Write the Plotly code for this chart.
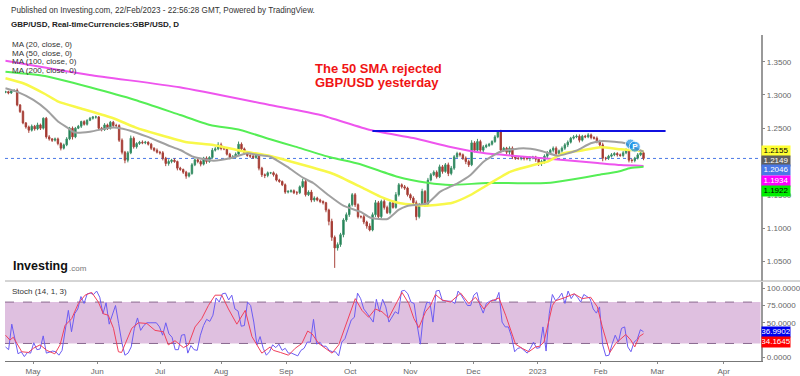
import numpy as np
import plotly.graph_objects as go
from plotly.subplots import make_subplots

W, H = 800, 376

closes = [
 1.3050,1.3030,1.3060,1.3070,1.2850,1.2750,1.2580,1.2520,1.2470,1.2530,
 1.2490,1.2550,1.2500,1.2650,1.2370,1.2340,1.2320,1.2340,1.2270,1.2200,
 1.2250,1.2340,1.2500,1.2370,1.2500,1.2530,1.2600,1.2560,1.2620,1.2650,
 1.2670,1.2670,1.2500,1.2480,1.2550,1.2500,1.2590,1.2540,1.2540,1.2320,
 1.2140,1.2020,1.2130,1.2350,1.2220,1.2270,1.2290,1.2280,1.2290,1.2260,
 1.2200,1.2170,1.2140,1.2130,1.2050,1.1970,1.2000,1.2020,1.2000,1.1900,
 1.1880,1.1840,1.1780,1.1820,1.1950,1.2025,1.2000,1.1960,1.2050,1.2000,
 1.2060,1.2170,1.2190,1.2250,1.2195,1.2190,1.2110,1.2060,1.2070,1.2110,
 1.2260,1.2190,1.2130,1.2090,1.2080,1.2060,1.2100,1.1900,1.1800,1.1790,
 1.1830,1.1830,1.1800,1.1720,1.1700,1.1650,1.1540,1.1550,1.1560,1.1530,
 1.1530,1.1620,1.1700,1.1500,1.1540,1.1420,1.1450,1.1420,1.1400,1.1380,
 1.1270,1.1100,1.0860,1.0700,1.0750,1.0900,1.1120,1.1200,1.1350,1.1500,
 1.1350,1.1170,1.1170,1.1090,1.1030,1.0970,1.1200,1.1380,1.1170,1.1400,
 1.1310,1.1230,1.1380,1.1310,1.1500,1.1650,1.1620,1.1600,1.1500,1.1450,
 1.1380,1.1170,1.1350,1.1550,1.1350,1.1720,1.1800,1.1840,1.1770,1.1920,
 1.1850,1.1950,1.1820,1.1900,1.2070,1.2120,1.2100,1.2050,1.2000,1.1950,
 1.2280,1.2170,1.2300,1.2170,1.2220,1.2240,1.2260,1.2300,1.2370,1.2450,
 1.2170,1.2200,1.2140,1.2200,1.2070,1.2050,1.2045,1.2060,1.2050,1.2045,
 1.2060,1.2065,1.2035,1.1980,1.2000,1.2080,1.2130,1.2170,1.2200,1.2120,
 1.2160,1.2200,1.2250,1.2290,1.2350,1.2370,1.2380,1.2320,1.2380,1.2370,
 1.2400,1.2360,1.2350,1.2300,1.2250,1.2050,1.2050,1.2080,1.2100,1.2120,
 1.2100,1.2090,1.2130,1.2170,1.2020,1.2015,1.2050,1.2100,1.2130,1.2046,
]
first_open = 1.3040
# wick lengths per bar, in units of 1/1500 of a price unit
wick_up = [
 2,2,3,2,4,2,3,2,3,4, 3,5,3,2,3,4,2,3,3,3,
 3,4,3,4,3,3,2,3,2,3, 2,3,2,3,4,3,3,3,4,3,
 4,3,4,6,4,3,3,4,3,2, 3,2,4,3,4,3,5,3,4,2,
 3,2,3,3,4,3,4,3,3,4, 3,5,4,6,5,3,3,3,4,4,
 6,4,3,3,3,3,4,4,3,3, 3,2,3,3,3,2,3,3,3,3,
 4,3,6,5,4,5,4,3,3,2, 2,3,6,4,5,4,4,5,4,4,
 4,3,3,4,3,6,5,6,4,4, 5,4,3,4,6,4,3,4,3,3,
 4,5,4,6,3,5,4,4,4,5, 4,4,5,5,4,4,3,3,4,4,
 6,4,6,4,4,4,3,3,4,1, 4,3,3,4,4,3,3,3,3,3,
 3,3,3,3,4,4,4,3,4,4, 3,4,4,4,3,4,4,4,3,3,
 4,3,3,4,4,5,3,3,4,3, 3,3,4,4,4,3,3,4,5,3,
]
wick_dn = [
 2,3,2,2,3,3,3,4,6,3, 4,3,4,3,4,4,4,3,4,5,
 3,3,3,6,3,2,4,3,3,2, 3,4,3,4,3,4,3,3,4,4,
 5,7,5,3,4,4,3,3,3,3, 4,3,3,4,5,6,5,4,3,5,
 3,4,6,3,3,3,4,5,3,5, 3,3,3,3,4,3,3,4,3,3,
 3,3,4,3,4,3,3,5,5,6, 4,3,4,3,3,3,4,3,3,3,
 5,3,3,4,3,5,4,3,4,4, 5,9,8,45,6,5,6,4,5,4,
 5,4,4,5,6,3,3,5,3,4, 5,3,4,3,3,4,4,4,4,5,
 4,8,4,3,5,3,3,3,4,3, 5,3,6,4,4,3,4,4,6,5,
 3,5,3,4,4,3,3,3,3,3, 6,4,5,6,5,4,3,4,5,4,
 6,4,6,7,7,5,4,4,5,4, 3,4,4,5,3,3,3,5,3,3,
 3,4,3,4,5,7,5,4,3,3, 4,3,4,3,5,5,4,3,3,4,
]

ma200_x = [0,29,60,91,108.5,125.7,140.5,153.3,164.7,184.3,192.2,204,212,219.8]
ma200_y = [1.3516,1.3301,1.3116,1.2850,1.2699,1.2474,1.2353,1.2218,1.2128,1.2053,1.2023,1.1977,1.1947,1.1934]
ma100_x = [0,13.6,29.1,44.7,60.2,70.5,80.9,91.2,99.8,111.9,122,135,145.3,153.3,166,184.3,187.8,195.7,204,210.9,215.3,219.8]
ma100_y = [1.3350,1.3286,1.3116,1.2925,1.2699,1.2549,1.2474,1.2334,1.2223,1.2063,1.1962,1.1771,1.1681,1.1647,1.1677,1.1672,1.1681,1.1732,1.1797,1.1847,1.1902,1.1922]
ma50_x = [0,6.1,13.6,18.2,25.7,37.1,44.7,53.3,62.5,71.6,80.9,91.2,102.6,113,122.2,129.1,136,145.3,154,160.2,166,174,184.3,186.7,192.2,198,205,212,219.8]
ma50_y = [1.3251,1.3176,1.3015,1.2899,1.2800,1.2650,1.2514,1.2398,1.2289,1.2248,1.2162,1.2083,1.1947,1.1812,1.1621,1.1471,1.1371,1.1335,1.1380,1.1496,1.1647,1.1847,1.1973,1.1997,1.2123,1.2162,1.2214,1.2183,1.2155]
ma20_x = [0,3.9,9.6,14.2,18.2,21.7,23.5,29.1,36,38.5,43,48.8,55.7,60.2,64.7,71.6,77.4,83.3,87,91.2,97,102.6,106,111.2,116.4,122.2,125.7,131.6,135.4,138.4,145.3,149.8,155.7,160.2,164.7,170.5,178.4,184.3,190.2,196.6,201.6,205.7,213.6,215,219.8]
ma20_y = [1.3101,1.3050,1.2925,1.2774,1.2598,1.2499,1.2439,1.2448,1.2508,1.2508,1.2463,1.2373,1.2248,1.2173,1.2072,1.2012,1.2048,1.2123,1.2098,1.2072,1.1922,1.1752,1.1677,1.1496,1.1335,1.1245,1.1155,1.1135,1.1271,1.1331,1.1371,1.1546,1.1672,1.1797,1.1997,1.2147,1.2198,1.2162,1.2087,1.2162,1.2274,1.2308,1.2274,1.2233,1.2149]

resistance_x = [126.4,227.4]
resistance_y = [1.2459,1.2459]
last_price = 1.2046
marker_x = [215.3,216.8]
marker_y = [1.2263,1.2223]

stoch_k = [
 15,11,48,27,5,8,1,7,6,21,11,12,31,6,8,9,8,3,10,39,68,37,63,70,88,78,92,93,91,96,87,63,79,48,61,75,49,22,3,6,15,42,57,39,46,50,50,50,50,44,32,50,34,29,11,11,32,33,6,17,11,10,32,46,55,52,61,86,80,92,93,83,90,70,67,45,46,80,75,51,18,30,13,3,8,18,14,
 19,10,13,6,6,4,2,10,13,22,22,55,19,22,16,16,10,8,8,2,22,27,42,54,58,93,85,70,64,58,51,84,66,84,73,51,58,66,63,96,97,92,80,78,46,19,63,79,80,51,96,97,82,82,81,81,78,96,90,82,75,75,90,94,75,64,78,81,83,82,94,51,44,44,30,8,13,14,10,6,13,22,13,14,
 44,9,63,91,82,86,93,78,96,85,92,87,80,91,88,85,70,64,73,18,2,3,19,32,22,42,44,15,8,22,26,40,37,
]
stoch_d_x = [0,1.5,2.7,3.9,5.6,7.9,9.6,11.9,14.2,17,18.8,20.5,22.8,25.1,27.4,29.7,32,33.7,35.4,37.2,38.9,40,41.8,43.5,45.8,48.7,51.5,54.4,56.1,58.4,61.3,63,65.3,67.6,69.9,72.2,74.5,76.8,79.7,82.6,84.9,88.3,91.2,
 92.3,94.7,97.5,99.8,102.1,104.1,105.6,107.9,110.2,112.5,114.8,117.1,120.5,122.8,125.1,127.4,129.7,132,134.3,136.6,138.9,140.7,142.4,144.7,146.4,148.1,150.4,153.3,156.8,159.6,161.9,164.8,167.1,170,172.3,175.7,178,180.3,182.6,184,
 185.5,188.4,189.5,192.4,195.9,198.7,201.6,203.9,205.6,208.2,210.2,213.7,215.4,216.8,218.3,219.8]
stoch_d = [32,25,29,20,8,7,13,18,10,5,18,46,56,78,90,94,80,63,61,42,8,7,25,42,50,49,39,37,18,24,14,18,44,56,75,90,90,70,48,68,30,6,15,
 10,7,3,13,20,38,34,20,13,6,18,44,85,68,58,70,66,57,75,94,78,56,43,66,75,91,83,80,93,78,87,70,81,86,61,19,13,8,15,16,
 22,75,82,86,92,85,87,73,44,7,20,33,25,15,30,34.16]

month_ticks = [9.5,31.6,53.3,74.3,96.7,118.8,139.5,161.2,183.3,205,224.6,247.4]
month_labels = ["May","Jun","Jul","Aug","Sep","Oct","Nov","Dec","2023","Feb","Mar","Apr"]
price_ticks = [1.05,1.10,1.15,1.20,1.25,1.30,1.35]
price_tick_labels = ["1.0500","1.1000","1.1500","","1.2500","1.3000","1.3500"]
stoch_ticks = [0,25,50,75,100]
stoch_tick_labels = ["0.0000","","50.0000","75.0000","100.0000"]
band = [20,80]

legend_labels = ["MA (20, close, 0)","MA (50, close, 0)","MA (100, close, 0)","MA (200, close, 0)"]
value_labels = [("1.2155",1.2155,0,"#ffff33","#000000"),
                ("1.2149",1.2149,-9,"#5f5f5f","#ffffff"),
                ("1.2046",1.2046,-11.7,"#4a78e6","#ffffff"),
                ("1.1934",1.1934,-14.7,"#ff00ff","#ffffff"),
                ("1.1922",1.1922,-24,"#00ee00","#000000")]
stoch_labels = [("36.9902",36.9902,0,"#0000ee","#ffffff"),("34.1645",34.1645,-8.6,"#ff0000","#ffffff")]

FONT = "Liberation Sans, Arial, sans-serif"
L, R = 5/W, 760.5/W
fig = make_subplots(rows=2, cols=1, shared_xaxes=True)
n = len(closes)
bx = np.linspace(0, 219.8, n)
c = np.array(closes)
o = np.concatenate([[first_open], c[:-1]])
hi = np.maximum(o, c) + np.array(wick_up[:n]) / 1500
lo = np.minimum(o, c) - np.array(wick_dn[:n]) / 1500

fig.add_trace(go.Candlestick(x=bx, open=o, high=hi, low=lo, close=c, whiskerwidth=0,
    increasing=dict(line=dict(color="#3d8f68", width=1), fillcolor="#0d7d4d"),
    decreasing=dict(line=dict(color="#a8443c", width=1), fillcolor="#a3281f")), row=1, col=1)

for xs, ys, col, w in [(ma200_x, ma200_y, "#ee55ee", 2), (ma100_x, ma100_y, "#55ee55", 2),
                       (ma50_x, ma50_y, "#f8f84a", 2.5), (ma20_x, ma20_y, "#a0a0a0", 2)]:
    fig.add_trace(go.Scatter(x=xs, y=ys, mode="lines", line=dict(color=col, width=w, shape="spline", smoothing=0.5)), row=1, col=1)

fig.add_trace(go.Scatter(x=resistance_x, y=resistance_y, mode="lines", line=dict(color="#1010e0", width=2)), row=1, col=1)
fig.add_trace(go.Scatter(x=marker_x, y=marker_y, mode="markers+text",
    marker=dict(color="#1490e8", size=[10, 11]), text=["", "<b>P</b>"], textposition="middle center",
    textfont=dict(color="#ffffff", size=8, family=FONT)), row=1, col=1)

fig.add_trace(go.Scatter(x=np.linspace(0, 219.8, len(stoch_k)), y=stoch_k, mode="lines",
    line=dict(color="#6c5cf2", width=1)), row=2, col=1)
fig.add_trace(go.Scatter(x=stoch_d_x, y=stoch_d, mode="lines",
    line=dict(color="#f0405c", width=1)), row=2, col=1)

fig.update_layout(width=W, height=H, margin=dict(l=0, r=0, t=0, b=0), showlegend=False,
    paper_bgcolor="white", plot_bgcolor="white", font=dict(family=FONT, size=8, color="#555"))
fig.update_xaxes(range=[-0.17, 260.1], domain=[L, R], showgrid=False, zeroline=False,
                 rangeslider_visible=False, showline=False)
fig.update_xaxes(row=1, col=1, showticklabels=False, ticks="")
fig.update_xaxes(row=2, col=1, tickvals=month_ticks, ticktext=month_labels, ticks="outside",
                 ticklen=2, tickcolor="#888", tickfont=dict(size=8, color="#666"),
                 showline=True, linecolor="#777", linewidth=1)
fig.update_yaxes(side="right", showgrid=False, zeroline=False, ticks="outside", ticklen=3,
                 tickcolor="#888", showline=True, linecolor="#999999", linewidth=1.5,
                 tickfont=dict(size=8, color="#666"))
fig.update_yaxes(row=1, col=1, range=[1.0203, 1.3902], domain=[(H-281)/H, (H-35)/H],
                 tickvals=price_ticks, ticktext=price_tick_labels)
fig.update_yaxes(row=2, col=1, range=[-5.4, 109.1], domain=[(H-361)/H, (H-282)/H],
                 tickvals=stoch_ticks, ticktext=stoch_tick_labels)

fig.add_shape(type="rect", xref="x2 domain", yref="y2", x0=0, x1=1, y0=band[0], y1=band[1],
              fillcolor="#dfc0e0", line_width=0, layer="below")
for b in band:
    fig.add_shape(type="line", xref="x2 domain", yref="y2", x0=0, x1=1, y0=b, y1=b,
                  line=dict(color="#8a6a90", width=1, dash="dash"), layer="below")
fig.add_shape(type="line", xref="paper", yref="paper", x0=L, x1=1, y0=(H-281)/H, y1=(H-281)/H,
              line=dict(color="#aaaaaa", width=1))
fig.add_shape(type="line", xref="x domain", yref="y", x0=0, x1=1, y0=last_price, y1=last_price,
              line=dict(color="#4a78e6", width=1, dash="dot"), layer="below")

def text(px, py, s, size=8, color="#333", bold=False):
    fig.add_annotation(xref="paper", yref="paper", x=px/W, y=(H-py)/H, text=f"<b>{s}</b>" if bold else s,
                       showarrow=False, xanchor="left", yanchor="middle", align="left",
                       font=dict(size=size, color=color, family=FONT))

text(9, 10.5, "Published on Investing.com, 22/Feb/2023 - 22:56:28 GMT, Powered by TradingView.", 8.15)
text(9, 24.5, "GBP/USD, Real-timeCurrencies:GBP/USD, D", 8, "#222", True)
for lbl, py in zip(legend_labels, [45, 53, 61.5, 70]):
    text(10, py, lbl, 8, "#333")
text(10, 291, "Stoch (14, 1, 3)", 8, "#333")
text(313, 68, "The 50 SMA rejected", 13, "#f01414", True)
text(313, 83, "GBP/USD yesterday", 13, "#f01414", True)
text(11, 266, "Investing", 12.5, "#111", True)
text(67, 268, ".com", 8, "#777")

for axis, labels in (("y", value_labels), ("y2", stoch_labels)):
    for s, v, shift, bg, fg in labels:
        fig.add_annotation(xref="paper", yref=axis, x=R, y=v, yshift=shift, text=s, showarrow=False,
                           xanchor="left", yanchor="middle", width=28, height=9.5, bgcolor=bg, borderpad=0,
                           font=dict(size=8, color=fg, family=FONT))

fig.write_html("out.html", config={"displayModeBar": False},
               post_script="document.body.style.margin='0';document.body.style.overflow='hidden';")
